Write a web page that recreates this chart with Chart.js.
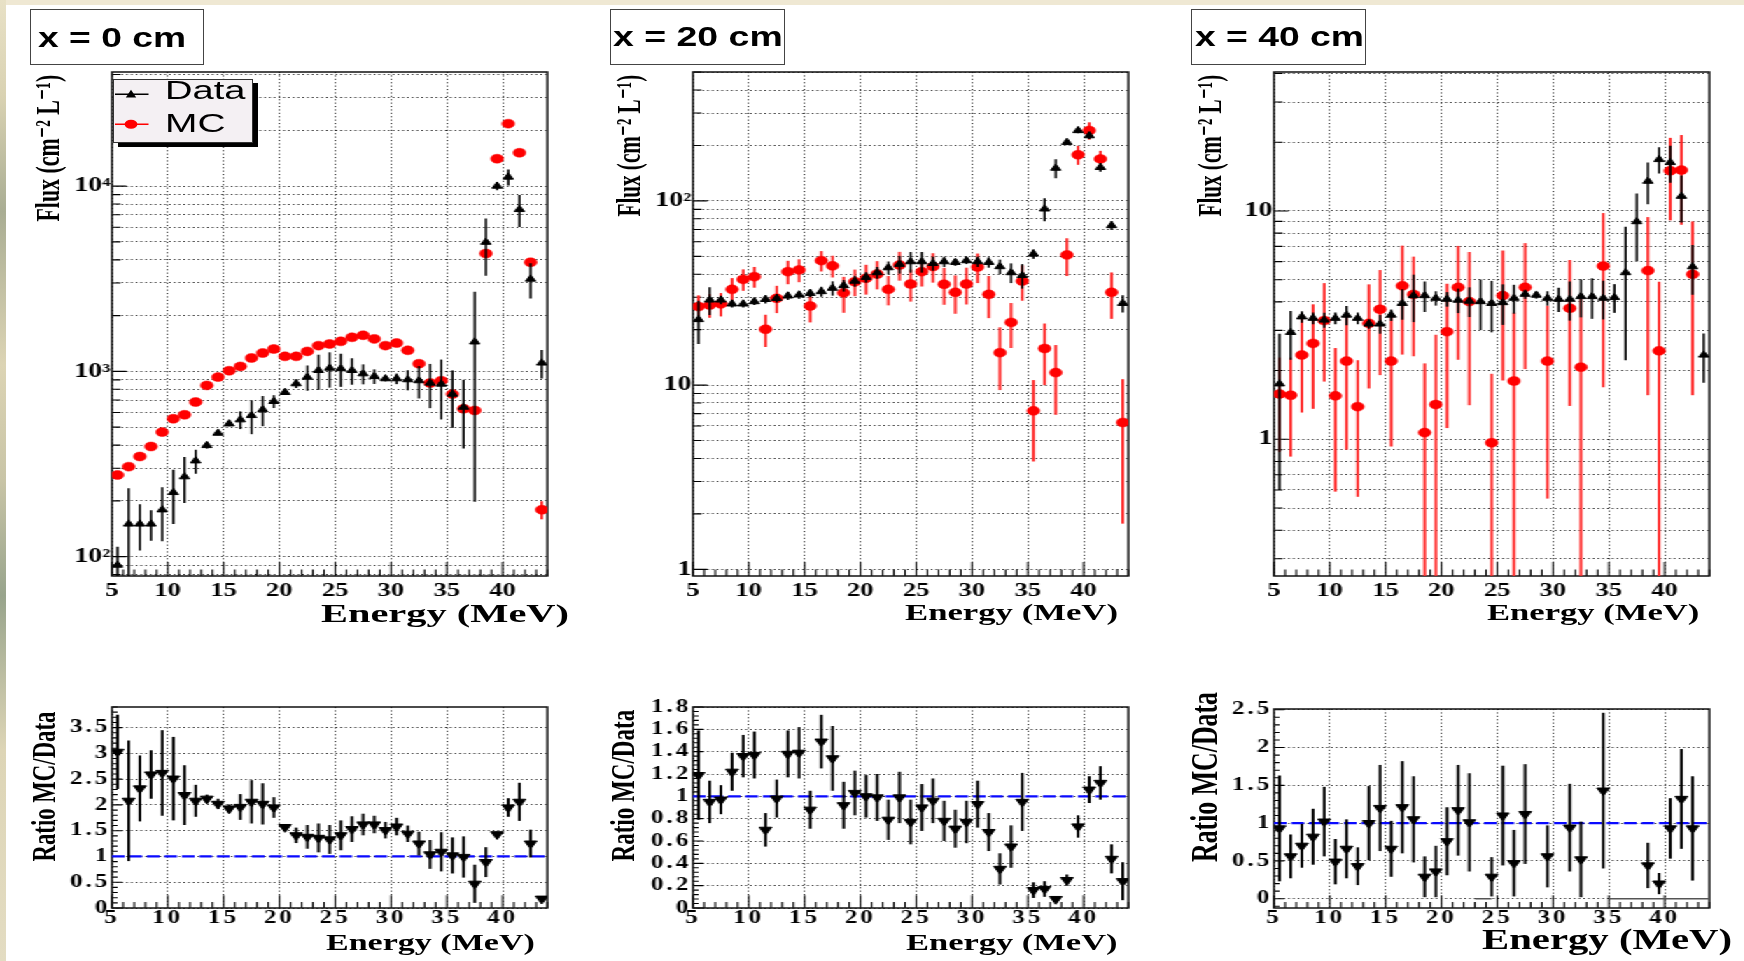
<!DOCTYPE html>
<html><head><meta charset="utf-8">
<script src="https://cdn.jsdelivr.net/npm/chart.js@4.4.1/dist/chart.umd.min.js"></script>
<style>
html,body{margin:0;padding:0;background:#fff;width:1744px;height:961px;overflow:hidden;position:relative;}
#topstrip{position:absolute;left:0;top:0;width:1744px;height:5px;background:#efe8d3;}
#leftstrip{position:absolute;left:0;top:0;width:6px;height:961px;background:linear-gradient(to bottom,#e8e1c6 0%,#d9d2b2 10%,#a9ad93 22%,#dcd4b4 38%,#c8c4a6 50%,#98a48c 62%,#ddd5b6 78%,#e3dcc2 100%);}
#stage{position:absolute;left:0;top:0;width:1246px;height:961px;transform:scaleX(1.4);transform-origin:0 0;}
#stage canvas{position:absolute;}
#overlay{position:absolute;left:0;top:0;width:1744px;height:961px;}
.t{position:absolute;white-space:nowrap;line-height:1;color:#000;}
.box{position:absolute;border:1.5px solid #444;background:#fff;box-sizing:border-box;}
</style></head><body>
<div id="topstrip"></div><div id="leftstrip"></div>
<div id="stage"></div>
<div id="overlay"></div>
<script>
// ---------------- data ----------------
const energy = [5.5,6.5,7.5,8.5,9.5,10.5,11.5,12.5,13.5,14.5,15.5,16.5,17.5,18.5,19.5,20.5,21.5,22.5,23.5,24.5,25.5,26.5,27.5,28.5,29.5,30.5,31.5,32.5,33.5,34.5,35.5,36.5,37.5,38.5,39.5,40.5,41.5,42.5,43.5];

// x = 0 cm
const flux0Data    = [90,150,150,150,179,222,270,329,398,464,521,548,578,621,689,770,858,931,1012,1042,1035,1012,971,940,913,913,902,891,865,854,754,641,1443,4980,10000,11190,7480,3150,1110];
const flux0DataErr = [23,84,42,28,58,72,75,49,15,12,15,60,120,115,55,20,45,145,218,225,210,165,120,85,30,60,112,177,232,304,258,258,1245,1700,500,1100,1470,680,195];
const flux0MC      = [276,306,347,393,470,555,583,683,840,931,1008,1064,1181,1256,1320,1205,1205,1282,1377,1406,1452,1527,1566,1497,1377,1422,1299,1100,865,891,754,628,615,4325,14060,21730,15140,3880,179];
const flux0MCErr   = [8,9,10,10,11,12,12,13,14,15,15,16,17,18,18,18,18,19,20,20,20,21,21,21,20,20,20,19,17,17,16,15,15,60,110,140,120,60,20];

// x = 20 cm
const flux20Data    = [22.7,29.0,29.0,27.6,27.6,28.4,29.2,29.6,30.5,30.9,31.5,32.2,33.6,34.7,36.7,38.5,40.8,43.4,45.3,46.8,46.8,45.8,46.8,46.4,47.4,46.8,46.4,44.0,40.8,39.4,51.5,90.5,150.6,208,241,226,152,73.5,27.8];
const flux20DataErr = [6,5,1.5,1.2,1.2,1.2,1.5,1.5,1.5,1.5,1.5,2,3,2.5,2.5,2.5,3,3.5,5,6,6,4,3,2,2,3,3,4,5,6,3,13,18,6,8,9,8,4,3];
const flux20MC      = [26.7,27.2,27.6,33.1,37.5,38.8,20.1,29.6,41.3,42.2,26.9,47.4,44.4,31.7,36.4,38.0,40.1,33.1,44.9,35.4,41.3,44.0,35.3,31.9,35.4,43.8,31.1,15.0,21.9,36.7,7.25,15.8,11.7,50.9,178,241,169,31.9,6.27];
const flux20MCErr   = [4,4,4,5,5,5,4,5,6,6,5,6,6,7,6,7,7,6,8,7,7,8,8,7.5,8,8,8,5.6,6,8,3.4,5.8,4.8,11.8,21,26,18,9,4.5];

// x = 40 cm
const flux40Data    = [1.75,2.94,3.44,3.39,3.33,3.39,3.50,3.39,3.20,3.20,3.50,3.94,4.26,4.26,4.15,4.11,4.07,4.03,4.01,3.94,3.97,4.15,4.32,4.28,4.15,4.11,4.11,4.22,4.22,4.15,4.18,5.37,8.98,13.5,16.8,16.3,11.6,5.70,2.34];
const flux40DataErr = [1.15,0.71,0.2,0.2,0.25,0.2,0.34,0.2,0.15,0.3,0.2,0.6,1.0,0.65,0.3,0.3,0.5,0.6,1.0,1.0,0.8,0.6,0.2,0.15,0.3,0.5,0.8,0.8,0.85,0.8,0.6,3.15,2.95,2.8,2.2,3.0,2.7,1.4,0.57];
const flux40MC      = [1.58,1.56,2.34,2.63,3.31,1.55,2.20,1.39,3.22,3.71,2.20,4.70,4.31,1.07,1.42,2.96,4.63,4.01,null,0.966,4.26,1.80,4.63,null,2.20,null,3.75,2.07,null,5.74,null,null,null,5.48,2.44,15.0,15.1,5.28,null];
const flux40MCErr   = [0.7,0.72,1.03,1.27,1.52,0.96,1.3,0.83,1.55,1.8,1.27,2.35,2.0,1.08,1.45,1.84,2.4,2.6,null,0.97,2.45,1.78,2.6,null,1.65,null,2.35,2.07,null,4.05,null,null,null,3.92,2.46,5.9,6.4,3.72,null];

// ratios MC/Data
const ratio0     = [3.03,2.08,2.32,2.59,2.62,2.51,2.19,2.08,2.12,2.02,1.93,1.96,2.06,2.02,1.95,1.57,1.41,1.38,1.36,1.33,1.41,1.53,1.62,1.62,1.51,1.58,1.44,1.25,1.04,1.09,1.02,0.99,0.47,0.89,1.43,1.95,2.06,1.25,0.18];
const ratio0Err  = [0.72,1.17,0.64,0.47,0.83,0.81,0.58,0.31,0.08,0.10,0.08,0.25,0.42,0.40,0.20,0.06,0.15,0.23,0.28,0.28,0.29,0.25,0.21,0.17,0.16,0.17,0.16,0.23,0.28,0.38,0.35,0.40,0.37,0.29,0.05,0.18,0.37,0.27,0.03];
const ratio20    = [1.19,0.95,0.97,1.22,1.36,1.37,0.70,0.98,1.38,1.39,0.88,1.49,1.34,0.92,1.03,1.00,0.99,0.79,0.99,0.77,0.90,0.96,0.78,0.71,0.77,0.93,0.68,0.35,0.55,0.95,0.16,0.17,0.08,0.25,0.73,1.06,1.12,0.44,0.24];
const ratio20Err = [0.40,0.19,0.13,0.17,0.19,0.21,0.15,0.17,0.21,0.23,0.17,0.24,0.29,0.21,0.20,0.19,0.21,0.18,0.23,0.20,0.21,0.20,0.18,0.17,0.19,0.21,0.17,0.14,0.19,0.26,0.07,0.07,0.02,0.05,0.10,0.12,0.15,0.13,0.17];
const ratio40    = [0.93,0.56,0.70,0.82,1.02,0.49,0.66,0.43,1.00,1.20,0.66,1.21,1.05,0.29,0.36,0.76,1.17,1.01,null,0.29,1.10,0.47,1.12,null,0.56,null,0.94,0.52,null,1.43,null,null,null,0.44,0.20,0.93,1.32,0.93,null];
const ratio40Err = [0.70,0.29,0.29,0.37,0.46,0.30,0.39,0.25,0.49,0.57,0.37,0.61,0.57,0.27,0.34,0.45,0.60,0.65,null,0.26,0.66,0.44,0.66,null,0.41,null,0.58,0.50,null,1.03,null,null,null,0.30,0.14,0.40,0.66,0.69,null];

// reference line (ratio = 1) and empty-bin segments at 0 (x = 40 cm ratio)
const refLineX = [5, 44];
const refLineY = [1, 1];
const zeroSegX40 = [23, 24.5, null, 35, 44];
const zeroSegY40 = [0, 0, null, 0, 0];

// ticks
const xTicks = [5,10,15,20,25,30,35,40];
const xTickLabels = ['5','10','15','20','25','30','35','40'];
const yTicks0 = [100,1000,10000];   const yLabels0 = ['10\u00B2','10\u00B3','10\u2074'];
const yTicks20 = [1,10,100];        const yLabels20 = ['1','10','10\u00B2'];
const yTicks40 = [1,10];            const yLabels40 = ['1','10'];
const rTicks0 = [0,0.5,1,1.5,2,2.5,3,3.5];        const rLabels0 = ['0','0.5','1','1.5','2','2.5','3','3.5'];
const rTicks20 = [0,0.2,0.4,0.6,0.8,1,1.2,1.4,1.6,1.8]; const rLabels20 = ['0','0.2','0.4','0.6','0.8','1','1.2','1.4','1.6','1.8'];
const rTicks40 = [0,0.5,1,1.5,2,2.5];              const rLabels40 = ['0','0.5','1','1.5','2','2.5'];

// ---------------- helpers ----------------
const SERIF = "'Liberation Serif','DejaVu Serif','Times New Roman',serif";
const SANS = "'Liberation Sans','DejaVu Sans',Arial,sans-serif";
const stage = document.getElementById('stage');
const overlay = document.getElementById('overlay');

function pts(xs, ys) { return xs.map((x, i) => ({x: x, y: ys[i]})); }

function logMinorTicks(min, max) {
  const out = [];
  for (let n = Math.floor(Math.log10(min)); n <= Math.ceil(Math.log10(max)); n++) {
    for (let k = 1; k <= 9; k++) {
      const v = Number((k * Math.pow(10, n)).toPrecision(8));
      if (v >= min * (1 - 1e-12) && v <= max * (1 + 1e-12)) out.push(v);
    }
  }
  return out;
}

const rootPlugin = {
  id: 'rootStyle',
  beforeDraw(chart, args, o) {
    try { chart.ctx.letterSpacing = (o.letterSpacing || 0) + 'px'; } catch (e) {}
  },
  beforeDatasetsDraw(chart, args, o) {
    const ctx = chart.ctx, ca = chart.chartArea;
    try { ctx.letterSpacing = '0px'; } catch (e) {}
    const xs = chart.scales.x, ys = chart.scales.y;
    ctx.save();
    ctx.setLineDash([]);
    ctx.strokeStyle = '#000';
    ctx.lineWidth = 1.1;
    ctx.beginPath();
    for (let v = Math.ceil(xs.min); v <= xs.max + 1e-9; v += 1) {
      const px = xs.getPixelForValue(v);
      const len = (v % 5 === 0) ? o.xMajor : o.xMinor;
      ctx.moveTo(px, ca.bottom); ctx.lineTo(px, ca.bottom - len);
    }
    let yt = [];
    if (o.log) {
      yt = logMinorTicks(ys.min, ys.max).map(v => ({v: v, major: Math.abs(Math.log10(v) - Math.round(Math.log10(v))) < 1e-9}));
    } else {
      const st = o.yMinorStep;
      for (let k = Math.ceil(ys.min / st - 1e-9); k * st <= ys.max + 1e-9; k++) {
        const v = k * st;
        yt.push({v: v, major: Math.abs(v / o.yMajorStep - Math.round(v / o.yMajorStep)) < 1e-6});
      }
    }
    yt.forEach(t => {
      const py = ys.getPixelForValue(t.v);
      const len = t.major ? o.yMajor : o.yMinor;
      ctx.moveTo(ca.left, py); ctx.lineTo(ca.left + len, py);
    });
    ctx.stroke();
    ctx.lineWidth = 1.5;
    ctx.strokeStyle = '#111';
    ctx.strokeRect(ca.left, ca.top, ca.right - ca.left, ca.bottom - ca.top);
    ctx.restore();
  },
  beforeDatasetDraw(chart, args) {
    const ds = chart.data.datasets[args.index];
    if (!ds.err) return;
    const ctx = chart.ctx, ca = chart.chartArea;
    const xs = chart.scales.x, ys = chart.scales.y;
    ctx.save();
    ctx.beginPath();
    ctx.rect(ca.left, ca.top, ca.right - ca.left, ca.bottom - ca.top);
    ctx.clip();
    ctx.setLineDash([]);
    ctx.strokeStyle = ds.errColor;
    ctx.lineWidth = ds.errWidth;
    ds.data.forEach((p, i) => {
      const e = ds.err[i];
      if (p.y == null || e == null) return;
      const px = xs.getPixelForValue(p.x);
      const hi = p.y + e, lo = p.y - e;
      const yHi = ys.getPixelForValue(hi);
      const yLo = (lo <= ys.min) ? ca.bottom + 3 : ys.getPixelForValue(lo);
      ctx.beginPath(); ctx.moveTo(px, yLo); ctx.lineTo(px, yHi); ctx.stroke();
    });
    ctx.restore();
  }
};

function makePanel(p) {
  const AX = 70, PT = 20, PR = 30, XB = 40;
  const c = document.createElement('canvas');
  const cw = AX + p.w + PR, chh = PT + p.h + XB;
  c.width = cw; c.height = chh;
  c.style.left = (p.l - AX) + 'px'; c.style.top = (p.t - PT) + 'px';
  c.style.width = cw + 'px'; c.style.height = chh + 'px';
  stage.appendChild(c);
  const gridCol = 'rgba(0,0,0,0.88)';
  const yScale = p.log ? {
    type: 'logarithmic', min: p.ymin, max: p.ymax,
    afterBuildTicks: s => { s.ticks = logMinorTicks(p.ymin, p.ymax).map(v => ({value: v})); },
    ticks: {
      autoSkip: false, padding: p.yPad, color: '#000',
      font: {family: SERIF, size: p.yFont, weight: 'bold'},
      callback: v => { const k = p.yTicks.findIndex(t => Math.abs(t - v) / t < 1e-9); return k >= 0 ? p.yLabels[k] : ''; }
    }
  } : {
    type: 'linear', min: p.ymin, max: p.ymax, bounds: 'data',
    afterBuildTicks: s => { s.ticks = p.yTicks.map(v => ({value: v})); },
    ticks: {
      autoSkip: false, padding: p.yPad, color: '#000',
      font: {family: SERIF, size: p.yFont, weight: 'bold'},
      callback: (v, i) => p.yLabels[i]
    }
  };
  yScale.afterFit = s => { s.width = AX; };
  yScale.grid = {color: gridCol, lineWidth: 1, drawTicks: false};
  yScale.border = {display: false, dash: [1.1, 2.3]};
  new Chart(c, {
    type: 'scatter',
    data: {datasets: p.datasets},
    options: {
      responsive: false, animation: false, devicePixelRatio: 1, events: [],
      layout: {padding: {left: 0, right: PR, top: PT, bottom: 0}},
      plugins: {legend: {display: false}, tooltip: {enabled: false}, rootStyle: p.axis},
      scales: {
        x: {
          type: 'linear', min: 5, max: 44, bounds: 'data',
          afterBuildTicks: s => { s.ticks = xTicks.map(v => ({value: v})); },
          afterFit: s => { s.height = XB; },
          ticks: {autoSkip: false, maxRotation: 0, padding: p.xPad, color: '#000',
                  font: {family: SERIF, size: p.xFont, weight: 'bold'},
                  callback: (v, i) => xTickLabels[i]},
          grid: {color: gridCol, lineWidth: 1, drawTicks: false},
          border: {display: false, dash: [1.1, 2.3]}
        },
        y: yScale
      }
    },
    plugins: [rootPlugin]
  });
}

function dataSet(ys, err) {
  return {label: 'Data', data: pts(energy, ys), err: err, errColor: '#000', errWidth: 1.6,
          pointStyle: 'triangle', pointRadius: 4.2, pointBackgroundColor: '#000', pointBorderColor: '#000', pointBorderWidth: 1};
}
function mcSet(ys, err) {
  return {label: 'MC', data: pts(energy, ys), err: err, errColor: '#ff2a2a', errWidth: 2.0,
          pointStyle: 'circle', pointRadius: 4.5, pointBackgroundColor: '#ff0000', pointBorderColor: '#ff0000', pointBorderWidth: 0.5};
}
function ratioSet(ys, err) {
  return {label: 'MC/Data', data: pts(energy, ys), err: err, errColor: '#000', errWidth: 2.0,
          pointStyle: 'triangle', pointRotation: 180, pointRadius: 5.2, pointBackgroundColor: '#000', pointBorderColor: '#000', pointBorderWidth: 1};
}
function refSet() {
  return {type: 'line', label: 'ref', data: pts(refLineX, refLineY), showLine: true, borderColor: '#0a0aff',
          borderWidth: 2.2, borderDash: [9, 3.5], pointRadius: 0, fill: false};
}

const topAxis = {log: true, xMajor: 14, xMinor: 6.5, yMajor: 10.4, yMinor: 6.2, letterSpacing: 0};
const topCommon = {t: 72, w: 311, h: 504, log: true, xFont: 19, yFont: 20, xPad: 3.5, yPad: 1, axis: topAxis};
const botCommon = {w: 311, log: false, xFont: 18, yFont: 18, xPad: 0, yPad: 1};

makePanel(Object.assign({}, topCommon, {l: 80, ymin: 78.6, ymax: 41300, yTicks: yTicks0, yLabels: yLabels0,
  datasets: [dataSet(flux0Data, flux0DataErr), mcSet(flux0MC, flux0MCErr)]}));
makePanel(Object.assign({}, topCommon, {l: 495, ymin: 0.92, ymax: 501, yTicks: yTicks20, yLabels: yLabels20,
  datasets: [dataSet(flux20Data, flux20DataErr), mcSet(flux20MC, flux20MCErr)]}));
makePanel(Object.assign({}, topCommon, {l: 910, ymin: 0.252, ymax: 40.6, yTicks: yTicks40, yLabels: yLabels40,
  datasets: [dataSet(flux40Data, flux40DataErr), mcSet(flux40MC, flux40MCErr)]}));

makePanel(Object.assign({}, botCommon, {l: 80, t: 707, h: 201, ymin: 0, ymax: 3.9, yTicks: rTicks0, yLabels: rLabels0,
  axis: {log: false, xMajor: 12.7, xMinor: 6, yMajor: 7.5, yMinor: 4, yMinorStep: 0.1, yMajorStep: 0.5, letterSpacing: 2.2},
  datasets: [ratioSet(ratio0, ratio0Err), refSet()]}));
makePanel(Object.assign({}, botCommon, {l: 495, t: 707, h: 201, ymin: 0, ymax: 1.8, yTicks: rTicks20, yLabels: rLabels20,
  axis: {log: false, xMajor: 12.7, xMinor: 6, yMajor: 7.5, yMinor: 4, yMinorStep: 0.04, yMajorStep: 0.2, letterSpacing: 2.2},
  datasets: [ratioSet(ratio20, ratio20Err), refSet()]}));
makePanel(Object.assign({}, botCommon, {l: 910, t: 709, h: 199, ymin: -0.123, ymax: 2.51, yTicks: rTicks40, yLabels: rLabels40,
  axis: {log: false, xMajor: 12.7, xMinor: 6, yMajor: 7.5, yMinor: 4, yMinorStep: 0.1, yMajorStep: 0.5, letterSpacing: 2.2},
  datasets: [ratioSet(ratio40, ratio40Err), refSet(),
    {type: 'line', label: 'empty', data: pts(zeroSegX40, zeroSegY40), showLine: true, spanGaps: false,
     borderColor: '#555', borderWidth: 1.6, pointRadius: 0, fill: false}]}));

// ---------------- HTML text (full-page coordinates) ----------------
function addText(o) {
  const el = document.createElement('div');
  el.className = 't';
  el.textContent = o.text;
  el.style.fontFamily = o.family; el.style.fontSize = o.size + 'px'; el.style.fontWeight = o.weight || 'normal';
  overlay.appendChild(el);
  const nat = el.getBoundingClientRect().width;
  const sx = o.width / nat;
  const left = (o.left != null) ? o.left : o.right - o.width;
  const asc = o.family === SANS ? 0.8465 : 0.8375;
  el.style.left = left + 'px';
  el.style.top = (o.baseline - asc * o.size) + 'px';
  el.style.transformOrigin = '0 0';
  el.style.transform = 'scaleX(' + sx + ')';
}
function addRot(o) {
  const el = document.createElement('div');
  el.className = 't';
  el.textContent = o.text;
  el.style.fontFamily = o.family; el.style.fontSize = o.size + 'px'; el.style.fontWeight = o.weight || 'normal';
  overlay.appendChild(el);
  const r = el.getBoundingClientRect();
  const sx = (o.bottom - o.top) / r.width;
  el.style.left = o.cx + 'px';
  el.style.top = (o.bottom - r.height / 2) + 'px';
  el.style.transformOrigin = '0 50%';
  el.style.transform = 'rotate(-90deg) scale(' + sx + ',' + o.sy + ')';
}
function addBox(l, t, w, h) {
  const b = document.createElement('div');
  b.className = 'box';
  b.style.left = l + 'px'; b.style.top = t + 'px'; b.style.width = w + 'px'; b.style.height = h + 'px';
  overlay.appendChild(b);
}

// panel title boxes
addBox(29.8, 9, 174.2, 56);
addBox(609.6, 9, 175, 56);
addBox(1191.2, 9, 174.6, 56);
addText({text: 'x = 0 cm',  family: SANS, weight: 'bold', size: 27, left: 38.3,  baseline: 48.3, width: 148});
addText({text: 'x = 20 cm', family: SANS, weight: 'bold', size: 27, left: 613.2, baseline: 46.5, width: 169.7});
addText({text: 'x = 40 cm', family: SANS, weight: 'bold', size: 27, left: 1194.9, baseline: 46.5, width: 169});

// y axis titles
const fluxTitle = 'Flux (cm\u207B\u00B2 L\u207B\u00B9)';
addRot({text: fluxTitle, family: SERIF, weight: 'bold', size: 25, cx: 47.8,   top: 75, bottom: 221.7, sy: 1.35});
addRot({text: fluxTitle, family: SERIF, weight: 'bold', size: 25, cx: 629,    top: 75, bottom: 216.7, sy: 1.35});
addRot({text: fluxTitle, family: SERIF, weight: 'bold', size: 25, cx: 1210.2, top: 75, bottom: 216.7, sy: 1.35});
const ratioTitle = 'Ratio MC/Data';
addRot({text: ratioTitle, family: SERIF, weight: 'bold', size: 23, cx: 44.2,   top: 711.7, bottom: 861.7, sy: 1.5});
addRot({text: ratioTitle, family: SERIF, weight: 'bold', size: 23, cx: 623.3,  top: 710,   bottom: 861.7, sy: 1.5});
addRot({text: ratioTitle, family: SERIF, weight: 'bold', size: 26, cx: 1204.7, top: 691.7, bottom: 861.7, sy: 1.45});

// x axis titles
const eTitle = 'Energy (MeV)';
addText({text: eTitle, family: SERIF, weight: 'bold', size: 25,   right: 569,    baseline: 621.5, width: 248});
addText({text: eTitle, family: SERIF, weight: 'bold', size: 23.5, right: 1117.9, baseline: 620.5, width: 213});
addText({text: eTitle, family: SERIF, weight: 'bold', size: 23.5, right: 1699,   baseline: 620.5, width: 212.4});
addText({text: eTitle, family: SERIF, weight: 'bold', size: 22.5, right: 534.3,  baseline: 950.5, width: 208.8});
addText({text: eTitle, family: SERIF, weight: 'bold', size: 22.5, right: 1117,   baseline: 950.5, width: 211.5});
addText({text: eTitle, family: SERIF, weight: 'bold', size: 30,   right: 1731.7, baseline: 949.5, width: 250});

// legend (x = 0 cm panel)
const lg = document.createElement('div');
lg.style.cssText = 'position:absolute;left:113px;top:79px;width:139.6px;height:64px;background:#f4f0f3;border:1px solid #333;box-sizing:border-box;box-shadow:5px 4px 0 #000;';
overlay.appendChild(lg);
const NS = 'http://www.w3.org/2000/svg';
const svg = document.createElementNS(NS, 'svg');
svg.setAttribute('width', '1744'); svg.setAttribute('height', '961');
svg.style.cssText = 'position:absolute;left:0;top:0;pointer-events:none;';
function sv(tag, attrs) { const e = document.createElementNS(NS, tag); for (const k in attrs) e.setAttribute(k, attrs[k]); svg.appendChild(e); }
sv('line', {x1: 115, y1: 94.3, x2: 148.5, y2: 94.3, stroke: '#000', 'stroke-width': 1.5});
sv('polygon', {points: '131,89.8 136.2,97.6 125.8,97.6', fill: '#000'});
sv('line', {x1: 115, y1: 124.3, x2: 148.5, y2: 124.3, stroke: '#ff0000', 'stroke-width': 1.5});
sv('ellipse', {cx: 131, cy: 124.3, rx: 6.4, ry: 4.5, fill: '#ff0000'});
overlay.appendChild(svg);
addText({text: 'Data', family: SANS, size: 25.6, left: 164.5, baseline: 100,   width: 80.4});
addText({text: 'MC',   family: SANS, size: 25.6, left: 164.5, baseline: 132.3, width: 60.5});
</script>
</body></html>
